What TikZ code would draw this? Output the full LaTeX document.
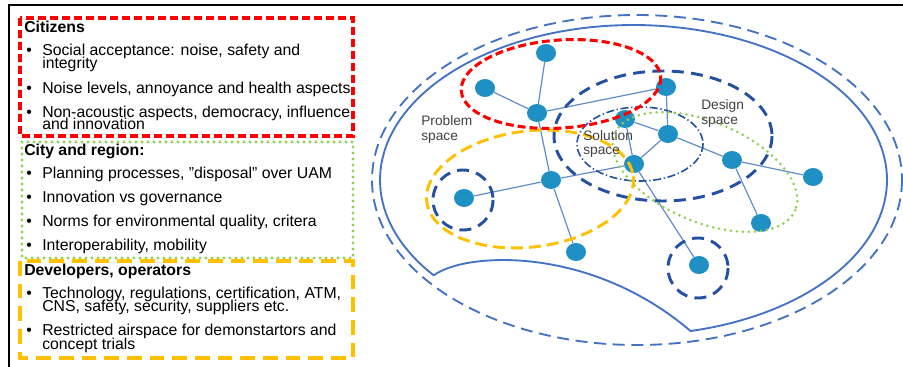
\documentclass[tikz,border=0pt]{standalone}
\usepackage{fontspec}
\setmainfont{Liberation Sans}
\usetikzlibrary{shapes.geometric}
\definecolor{nodeblue}{RGB}{30,144,196}
\definecolor{edgeblue}{RGB}{95,140,205}
\definecolor{outblue}{RGB}{68,114,196}
\definecolor{darkblue}{RGB}{35,80,160}
\definecolor{pgreen}{RGB}{146,208,80}
\definecolor{porange}{RGB}{255,192,0}
\definecolor{labgray}{RGB}{64,64,64}
\newcommand{\twolines}[3]{\vtop{\baselineskip=#3\lineskiplimit=-20pt\lineskip=0pt\hbox{#1}\hbox{#2}}}
\tikzset{
  txt/.style={anchor=base west, inner sep=0pt, font=\fontsize{11.85}{12}\selectfont},
  hdr/.style={txt, font=\fontsize{11.85}{12}\selectfont\bfseries},
  lab/.style={anchor=base west, inner sep=0pt, text=labgray, font=\fontsize{10.3}{11}\selectfont},
  net/.style={ellipse, fill=nodeblue, inner sep=0pt, minimum width=15pt, minimum height=13.5pt},
  link/.style={draw=edgeblue, line width=0.9pt},
  frameline/.style={line width=1.5pt, black},
  redbox/.style={draw=red, line width=2.3pt, dash pattern=on 6pt off 3pt},
  greenbox/.style={draw=pgreen, line width=2.3pt, line cap=round, dash pattern=on 0pt off 4.5pt},
  orangebox/.style={draw=porange, line width=2.3pt, dash pattern=on 11pt off 6pt},
  outsolid/.style={draw=outblue, line width=1.4pt},
  outdash/.style={draw=outblue, line width=1.4pt, dash pattern=on 9pt off 5pt},
  darkdash/.style={draw=darkblue, line width=2.2pt, dash pattern=on 9pt off 5.5pt},
  dashdotline/.style={draw=darkblue, line width=1.2pt, dash pattern=on 6pt off 2pt on 1pt off 2pt},
  yellowdash/.style={draw=porange, line width=2.2pt, dash pattern=on 9pt off 4.5pt},
  reddash/.style={draw=red, line width=2.3pt, dash pattern=on 6pt off 3pt},
  greendot/.style={draw=pgreen, line width=2.2pt, line cap=round, dash pattern=on 0pt off 4.5pt},
}
\begin{document}
\begin{tikzpicture}[x=0.75pt, y=-0.75pt]
\useasboundingbox (0,0) rectangle (903,367);
% frame
\coordinate (ftl) at (9,5.5);
\coordinate (ftr) at (903,5.5);
\coordinate (fbl) at (9,367);
\draw[frameline] (fbl) -- (ftl) -- (ftr);
% left boxes
\draw[redbox] (20,18) rectangle (353,136);
\draw[greenbox] (22,142) rectangle (353,258);
\draw[orangebox] (20,261) rectangle (353,358);
% Citizens
\node[hdr] (h1) at (24,32.3) {Citizens};
\node[txt] (b1) at (26,56) {•};
\node[txt] (t1) at (42,56) {\twolines{Social acceptance: noise, safety and}{integrity}{9.2pt}};
\node[txt] (b2) at (26,94) {•};
\node[txt] (t2) at (42,94) {Noise levels, annoyance and health aspects};
\node[txt] (b3) at (26,118) {•};
\node[txt] (t3) at (42,118) {\twolines{Non-acoustic aspects, democracy, influence}{and innovation}{8.9pt}};
% City and region
\node[hdr] (h2) at (24,156) {City and region:};
\node[txt] (b4) at (26,179) {•};
\node[txt] (t4) at (42,179) {Planning processes, ”disposal” over UAM};
\node[txt] (b5) at (26,202.7) {•};
\node[txt] (t5) at (42,202.7) {Innovation vs governance};
\node[txt] (b6) at (26,226.7) {•};
\node[txt] (t6) at (42,226.7) {Norms for environmental quality, critera};
\node[txt] (b7) at (26,250) {•};
\node[txt] (t7) at (42,250) {Interoperability, mobility};
% Developers
\node[hdr] (h3) at (24,275) {Developers, operators};
\node[txt] (b8) at (26,298.3) {•};
\node[txt] (t8) at (42,298.3) {\twolines{Technology, regulations, certification, ATM,}{CNS, safety, security, suppliers etc.}{10pt}};
\node[txt] (b9) at (26,335) {•};
\node[txt] (t9) at (42,335) {\twolines{Restricted airspace for demonstartors and}{concept trials}{10.5pt}};
% outer shapes
\draw[outdash] (637,180) ellipse [x radius=265, y radius=165];
\draw[outsolid] plot[domain=142:437, samples=150] ({633.5+253.5*cos(\x)},{180+155*sin(\x)})
   .. controls (590,245) and (465,252) .. (433.7,275.4);
% network nodes
\node[net] (a) at (546,53) {};
\node[net] (b) at (485,88) {};
\node[net] (c) at (537,113) {};
\node[net] (d) at (625,119) {};
\node[net] (e) at (634,164) {};
\node[net] (f) at (551,180) {};
\node[net] (g) at (464,198) {};
\node[net] (h) at (666,87) {};
\node[net] (i) at (668,134) {};
\node[net] (j) at (732,160) {};
\node[net] (k) at (813,177) {};
\node[net] (l) at (576,252) {};
\node[net] (m) at (761,223) {};
\node[net] (n) at (699,265) {};
\draw[link] (a) -- (c);
\draw[link] (b) -- (c);
\draw[link] (c) -- (h);
\draw[link] (c) -- (f);
\draw[link] (f) -- (g);
\draw[link] (f) -- (l);
\draw[link] (f) -- (e);
\draw[link] (d) -- (i);
\draw[link] (d) -- (e);
\draw[link] (e) -- (i);
\draw[link] (h) -- (i);
\draw[link] (i) -- (j);
\draw[link] (j) -- (k);
\draw[link] (j) -- (m);
\draw[link] (e) -- (n);
% region ellipses
\draw[dashdotline] (640,144) ellipse [x radius=63, y radius=37];
\draw[darkdash] (663,136) ellipse [x radius=109, y radius=65];
\draw[greendot, rotate around={-23:(705,172)}] (705,172) ellipse [x radius=98, y radius=50];
\draw[yellowdash, rotate around={7:(530,189)}] (530,189) ellipse [x radius=104, y radius=58];
\draw[reddash, rotate around={4:(561,84)}] (561,84) ellipse [x radius=100, y radius=44];
\draw[darkdash] (463,200) circle [radius=30];
\draw[darkdash] (698,268) circle [radius=30];
% labels
\node[lab] (p1) at (421,125.7) {Problem};
\node[lab] (p2) at (421,140.7) {space};
\node[lab] (s1) at (583,140.7) {Solution};
\node[lab] (s2) at (583,155) {space};
\node[lab] (d1) at (701,110) {Design};
\node[lab] (d2) at (701,124.5) {space};
\end{tikzpicture}
\end{document}
